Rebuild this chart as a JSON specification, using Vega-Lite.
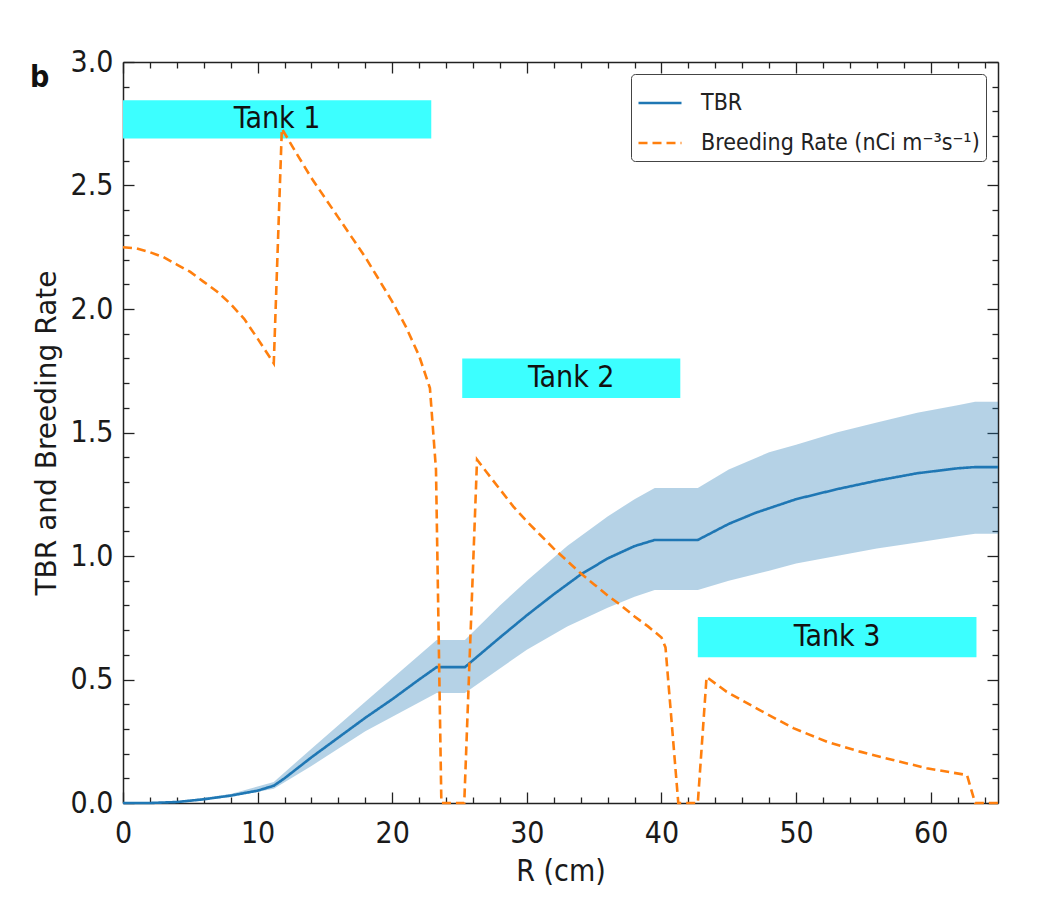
{
  "$schema": "https://vega.github.io/schema/vega-lite/v6.json",
  "width": 875,
  "height": 741,
  "autosize": "none",
  "padding": {"left": 123, "top": 62, "right": 62, "bottom": 108},
  "background": "white",
  "title": {
    "text": "b",
    "anchor": "start",
    "frame": "bounds",
    "font": "DejaVu Sans Condensed",
    "fontWeight": "bold",
    "fontSize": 30,
    "color": "#111",
    "baseline": "alphabetic",
    "offset": 0,
    "dy": 70,
    "dx": -3
  },
  "config": {
    "view": {"stroke": null},
    "axis": {
      "grid": false,
      "domain": false,
      "zindex": 2,
      "labelFlush": false,
      "tickColor": "#222",
      "tickWidth": 1.3,
      "labelColor": "#1a1a1a",
      "titleColor": "#1a1a1a",
      "labelFont": "DejaVu Sans Condensed",
      "titleFont": "DejaVu Sans Condensed",
      "labelFontSize": 30,
      "titleFontSize": 30,
      "titleFontWeight": "normal"
    }
  },
  "datasets": {
    "curves": [
      {"series": "TBR", "R": 0, "v": 0},
      {"series": "TBR", "R": 2, "v": 0},
      {"series": "TBR", "R": 4, "v": 0.004},
      {"series": "TBR", "R": 6, "v": 0.015},
      {"series": "TBR", "R": 8, "v": 0.03},
      {"series": "TBR", "R": 10, "v": 0.05},
      {"series": "TBR", "R": 11.2, "v": 0.07},
      {"series": "TBR", "R": 12, "v": 0.1},
      {"series": "TBR", "R": 14, "v": 0.185},
      {"series": "TBR", "R": 16, "v": 0.265},
      {"series": "TBR", "R": 18, "v": 0.345},
      {"series": "TBR", "R": 20, "v": 0.42},
      {"series": "TBR", "R": 22, "v": 0.5},
      {"series": "TBR", "R": 23.3, "v": 0.55},
      {"series": "TBR", "R": 25.4, "v": 0.55},
      {"series": "TBR", "R": 26, "v": 0.578},
      {"series": "TBR", "R": 28, "v": 0.67},
      {"series": "TBR", "R": 30, "v": 0.76},
      {"series": "TBR", "R": 32, "v": 0.845},
      {"series": "TBR", "R": 34, "v": 0.925},
      {"series": "TBR", "R": 36, "v": 0.99},
      {"series": "TBR", "R": 38, "v": 1.04},
      {"series": "TBR", "R": 39.5, "v": 1.065},
      {"series": "TBR", "R": 42.7, "v": 1.065},
      {"series": "TBR", "R": 45, "v": 1.13},
      {"series": "TBR", "R": 47, "v": 1.175},
      {"series": "TBR", "R": 50, "v": 1.23},
      {"series": "TBR", "R": 53, "v": 1.27},
      {"series": "TBR", "R": 56, "v": 1.305},
      {"series": "TBR", "R": 59, "v": 1.335},
      {"series": "TBR", "R": 62, "v": 1.355},
      {"series": "TBR", "R": 63.3, "v": 1.36},
      {"series": "TBR", "R": 65, "v": 1.36},
      {"series": "Breeding Rate (nCi m⁻³s⁻¹)", "R": 0, "v": 2.25},
      {"series": "Breeding Rate (nCi m⁻³s⁻¹)", "R": 1, "v": 2.245},
      {"series": "Breeding Rate (nCi m⁻³s⁻¹)", "R": 2, "v": 2.23},
      {"series": "Breeding Rate (nCi m⁻³s⁻¹)", "R": 3, "v": 2.21},
      {"series": "Breeding Rate (nCi m⁻³s⁻¹)", "R": 4, "v": 2.18},
      {"series": "Breeding Rate (nCi m⁻³s⁻¹)", "R": 5, "v": 2.15},
      {"series": "Breeding Rate (nCi m⁻³s⁻¹)", "R": 6, "v": 2.11},
      {"series": "Breeding Rate (nCi m⁻³s⁻¹)", "R": 7, "v": 2.07},
      {"series": "Breeding Rate (nCi m⁻³s⁻¹)", "R": 8, "v": 2.02},
      {"series": "Breeding Rate (nCi m⁻³s⁻¹)", "R": 9, "v": 1.96},
      {"series": "Breeding Rate (nCi m⁻³s⁻¹)", "R": 10, "v": 1.88},
      {"series": "Breeding Rate (nCi m⁻³s⁻¹)", "R": 11.2, "v": 1.78},
      {"series": "Breeding Rate (nCi m⁻³s⁻¹)", "R": 11.8, "v": 2.73},
      {"series": "Breeding Rate (nCi m⁻³s⁻¹)", "R": 13, "v": 2.62},
      {"series": "Breeding Rate (nCi m⁻³s⁻¹)", "R": 14, "v": 2.53},
      {"series": "Breeding Rate (nCi m⁻³s⁻¹)", "R": 15, "v": 2.45},
      {"series": "Breeding Rate (nCi m⁻³s⁻¹)", "R": 16, "v": 2.37},
      {"series": "Breeding Rate (nCi m⁻³s⁻¹)", "R": 17, "v": 2.29},
      {"series": "Breeding Rate (nCi m⁻³s⁻¹)", "R": 18, "v": 2.21},
      {"series": "Breeding Rate (nCi m⁻³s⁻¹)", "R": 19, "v": 2.12},
      {"series": "Breeding Rate (nCi m⁻³s⁻¹)", "R": 20, "v": 2.03},
      {"series": "Breeding Rate (nCi m⁻³s⁻¹)", "R": 21, "v": 1.93},
      {"series": "Breeding Rate (nCi m⁻³s⁻¹)", "R": 22, "v": 1.81},
      {"series": "Breeding Rate (nCi m⁻³s⁻¹)", "R": 22.8, "v": 1.68},
      {"series": "Breeding Rate (nCi m⁻³s⁻¹)", "R": 23.25, "v": 1.35},
      {"series": "Breeding Rate (nCi m⁻³s⁻¹)", "R": 23.65, "v": 0},
      {"series": "Breeding Rate (nCi m⁻³s⁻¹)", "R": 25.35, "v": 0},
      {"series": "Breeding Rate (nCi m⁻³s⁻¹)", "R": 26.3, "v": 1.39},
      {"series": "Breeding Rate (nCi m⁻³s⁻¹)", "R": 27, "v": 1.34},
      {"series": "Breeding Rate (nCi m⁻³s⁻¹)", "R": 28, "v": 1.27},
      {"series": "Breeding Rate (nCi m⁻³s⁻¹)", "R": 29, "v": 1.2},
      {"series": "Breeding Rate (nCi m⁻³s⁻¹)", "R": 30, "v": 1.14},
      {"series": "Breeding Rate (nCi m⁻³s⁻¹)", "R": 31, "v": 1.085},
      {"series": "Breeding Rate (nCi m⁻³s⁻¹)", "R": 32, "v": 1.03},
      {"series": "Breeding Rate (nCi m⁻³s⁻¹)", "R": 33, "v": 0.98},
      {"series": "Breeding Rate (nCi m⁻³s⁻¹)", "R": 34, "v": 0.93},
      {"series": "Breeding Rate (nCi m⁻³s⁻¹)", "R": 35, "v": 0.885},
      {"series": "Breeding Rate (nCi m⁻³s⁻¹)", "R": 36, "v": 0.84},
      {"series": "Breeding Rate (nCi m⁻³s⁻¹)", "R": 37, "v": 0.8},
      {"series": "Breeding Rate (nCi m⁻³s⁻¹)", "R": 38, "v": 0.755},
      {"series": "Breeding Rate (nCi m⁻³s⁻¹)", "R": 39, "v": 0.715},
      {"series": "Breeding Rate (nCi m⁻³s⁻¹)", "R": 40, "v": 0.67},
      {"series": "Breeding Rate (nCi m⁻³s⁻¹)", "R": 40.3, "v": 0.63},
      {"series": "Breeding Rate (nCi m⁻³s⁻¹)", "R": 41.25, "v": 0},
      {"series": "Breeding Rate (nCi m⁻³s⁻¹)", "R": 42.7, "v": 0},
      {"series": "Breeding Rate (nCi m⁻³s⁻¹)", "R": 43.35, "v": 0.51},
      {"series": "Breeding Rate (nCi m⁻³s⁻¹)", "R": 44.85, "v": 0.45},
      {"series": "Breeding Rate (nCi m⁻³s⁻¹)", "R": 47.3, "v": 0.376},
      {"series": "Breeding Rate (nCi m⁻³s⁻¹)", "R": 49.8, "v": 0.303},
      {"series": "Breeding Rate (nCi m⁻³s⁻¹)", "R": 52.3, "v": 0.248},
      {"series": "Breeding Rate (nCi m⁻³s⁻¹)", "R": 54.75, "v": 0.208},
      {"series": "Breeding Rate (nCi m⁻³s⁻¹)", "R": 57.2, "v": 0.174},
      {"series": "Breeding Rate (nCi m⁻³s⁻¹)", "R": 59.7, "v": 0.141},
      {"series": "Breeding Rate (nCi m⁻³s⁻¹)", "R": 62.7, "v": 0.113},
      {"series": "Breeding Rate (nCi m⁻³s⁻¹)", "R": 63.3, "v": 0},
      {"series": "Breeding Rate (nCi m⁻³s⁻¹)", "R": 65, "v": 0}
    ],
    "band": [
      {"R": 0, "lo": 0, "hi": 0},
      {"R": 4, "lo": 0, "hi": 0.006},
      {"R": 8, "lo": 0.024, "hi": 0.036},
      {"R": 11.2, "lo": 0.058, "hi": 0.085},
      {"R": 14, "lo": 0.15, "hi": 0.22},
      {"R": 18, "lo": 0.29, "hi": 0.41},
      {"R": 23.3, "lo": 0.445, "hi": 0.66},
      {"R": 25.4, "lo": 0.445, "hi": 0.66},
      {"R": 28, "lo": 0.545, "hi": 0.8},
      {"R": 30, "lo": 0.62, "hi": 0.9},
      {"R": 33, "lo": 0.715, "hi": 1.04},
      {"R": 36, "lo": 0.79, "hi": 1.16},
      {"R": 38, "lo": 0.835, "hi": 1.23},
      {"R": 39.5, "lo": 0.862, "hi": 1.275},
      {"R": 42.7, "lo": 0.862, "hi": 1.275},
      {"R": 45, "lo": 0.9, "hi": 1.35},
      {"R": 48, "lo": 0.94, "hi": 1.42},
      {"R": 50, "lo": 0.97, "hi": 1.45},
      {"R": 53, "lo": 1.0, "hi": 1.5},
      {"R": 56, "lo": 1.03, "hi": 1.54},
      {"R": 59, "lo": 1.055, "hi": 1.58},
      {"R": 62, "lo": 1.08, "hi": 1.61},
      {"R": 63.3, "lo": 1.09, "hi": 1.625},
      {"R": 65, "lo": 1.09, "hi": 1.625}
    ],
    "tanks": [
      {"tank": "Tank 1", "r0": 0, "r1": 22.9, "y0": 2.69, "y1": 2.845},
      {"tank": "Tank 2", "r0": 25.2, "r1": 41.4, "y0": 1.64, "y1": 1.8},
      {"tank": "Tank 3", "r0": 42.7, "r1": 63.4, "y0": 0.59, "y1": 0.753}
    ]
  },
  "layer": [
    {
      "data": {"name": "band"},
      "mark": {"type": "area", "color": "#1f77b4", "opacity": 0.33},
      "encoding": {
        "x": {
          "field": "R", "type": "quantitative",
          "scale": {"domain": [0, 65], "nice": false, "zero": false},
          "axis": {
            "orient": "bottom", "values": [0, 10, 20, 30, 40, 50, 60],
            "tickSize": -11, "labelPadding": 26, "title": "R (cm)", "titlePadding": 8,
            "domain": true, "domainColor": "#222", "domainWidth": 1.5
          }
        },
        "y": {
          "field": "hi", "type": "quantitative",
          "scale": {"domain": [0, 3], "nice": false, "zero": false},
          "axis": {
            "orient": "left", "values": [0, 0.5, 1, 1.5, 2, 2.5, 3], "format": ".1f",
            "tickSize": -11, "labelPadding": 21, "title": "TBR and Breeding Rate",
            "titleFont": "DejaVu Sans", "titleFontSize": 28, "titlePadding": 9,
            "domain": true, "domainColor": "#222", "domainWidth": 1.5
          }
        },
        "y2": {"field": "lo"}
      }
    },
    {
      "data": {"name": "tanks"},
      "mark": {"type": "rect", "color": "#3cffff"},
      "encoding": {
        "x": {
          "field": "r0", "type": "quantitative",
          "axis": {
            "orient": "top", "values": [0, 10, 20, 30, 40, 50, 60], "labels": false,
            "tickSize": -11, "title": null,
            "domain": true, "domainColor": "#222", "domainWidth": 1.5
          }
        },
        "x2": {"field": "r1"},
        "y": {
          "field": "y0", "type": "quantitative",
          "axis": {
            "orient": "right", "values": [0, 0.5, 1, 1.5, 2, 2.5, 3], "labels": false,
            "tickSize": -11, "title": null,
            "domain": true, "domainColor": "#222", "domainWidth": 1.5
          }
        },
        "y2": {"field": "y1"}
      }
    },
    {
      "data": {"name": "tanks"},
      "transform": [
        {"calculate": "(datum.r0 + datum.r1) / 2", "as": "rMid"},
        {"calculate": "(datum.y0 + datum.y1) / 2", "as": "yMid"}
      ],
      "mark": {
        "type": "text", "font": "DejaVu Sans Condensed", "fontSize": 30,
        "color": "#111", "align": "center", "baseline": "middle"
      },
      "encoding": {
        "x": {
          "field": "rMid", "type": "quantitative",
          "axis": {
            "orient": "bottom",
            "values": [2, 4, 6, 8, 12, 14, 16, 18, 22, 24, 26, 28, 32, 34, 36, 38, 42, 44, 46, 48, 52, 54, 56, 58, 62, 64],
            "labels": false, "tickSize": -6, "title": null
          }
        },
        "y": {
          "field": "yMid", "type": "quantitative",
          "axis": {
            "orient": "left",
            "values": [0.1, 0.2, 0.3, 0.4, 0.6, 0.7, 0.8, 0.9, 1.1, 1.2, 1.3, 1.4, 1.6, 1.7, 1.8, 1.9, 2.1, 2.2, 2.3, 2.4, 2.6, 2.7, 2.8, 2.9],
            "labels": false, "tickSize": -6, "title": null
          }
        },
        "text": {"field": "tank"}
      }
    },
    {
      "data": {"name": "curves"},
      "mark": {"type": "line", "strokeWidth": 2.6},
      "encoding": {
        "x": {
          "field": "R", "type": "quantitative",
          "axis": {
            "orient": "top",
            "values": [2, 4, 6, 8, 12, 14, 16, 18, 22, 24, 26, 28, 32, 34, 36, 38, 42, 44, 46, 48, 52, 54, 56, 58, 62, 64],
            "labels": false, "tickSize": -6, "title": null
          }
        },
        "y": {
          "field": "v", "type": "quantitative",
          "axis": {
            "orient": "right",
            "values": [0.1, 0.2, 0.3, 0.4, 0.6, 0.7, 0.8, 0.9, 1.1, 1.2, 1.3, 1.4, 1.6, 1.7, 1.8, 1.9, 2.1, 2.2, 2.3, 2.4, 2.6, 2.7, 2.8, 2.9],
            "labels": false, "tickSize": -6, "title": null
          }
        },
        "color": {
          "field": "series", "type": "nominal",
          "scale": {"domain": ["TBR", "Breeding Rate (nCi m⁻³s⁻¹)"], "range": ["#1f77b4", "#ff7f0e"]},
          "legend": {
            "title": null, "orient": "top-right", "offset": 12,
            "strokeColor": "#444", "cornerRadius": 4, "padding": 6,
            "fillColor": "white",
            "labelFont": "DejaVu Sans Condensed", "labelFontSize": 23, "labelColor": "#222",
            "labelOffset": 18, "symbolType": "stroke", "symbolSize": 1849,
            "symbolStrokeWidth": 2.6, "rowPadding": 5, "labelLimit": 400
          }
        },
        "strokeDash": {
          "field": "series", "type": "nominal",
          "scale": {"domain": ["TBR", "Breeding Rate (nCi m⁻³s⁻¹)"], "range": [[1, 0], [9, 5]]},
          "legend": {
            "title": null, "orient": "top-right", "offset": 12,
            "strokeColor": "#444", "cornerRadius": 4, "padding": 6,
            "fillColor": "white",
            "labelFont": "DejaVu Sans Condensed", "labelFontSize": 23, "labelColor": "#222",
            "labelOffset": 18, "symbolType": "stroke", "symbolSize": 1849,
            "symbolStrokeWidth": 2.6, "rowPadding": 5, "labelLimit": 400
          }
        }
      }
    }
  ],
  "resolve": {
    "scale": {"x": "shared", "y": "shared"},
    "axis": {"x": "independent", "y": "independent"}
  }
}
